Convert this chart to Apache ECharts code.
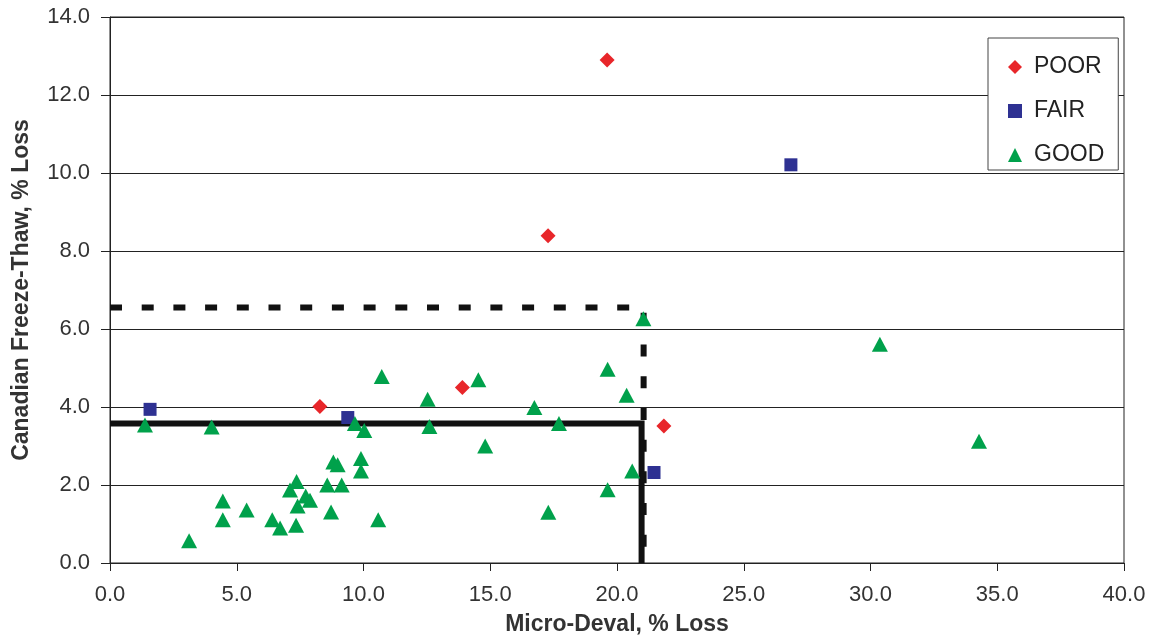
<!DOCTYPE html>
<html>
<head>
<meta charset="utf-8">
<script src="https://cdn.jsdelivr.net/npm/echarts@6/dist/echarts.min.js"></script>
<style>html,body{margin:0;padding:0;background:#fff;}#c{width:1151px;height:641px;}</style>
</head>
<body>
<div id="c"></div>
<script>
// Micro-Deval % loss (x), Canadian Freeze-Thaw % loss (y)
const poor = [[19.61,12.90],[17.28,8.39],[13.90,4.50],[8.28,4.01],[21.85,3.51]];
const fair = [[26.86,10.21],[1.58,3.94],[9.38,3.73],[21.46,2.32]];
const good = [
  [1.38,3.54],[4.01,3.49],[3.12,0.57],[4.45,1.59],[4.45,1.11],[5.39,1.36],
  [6.40,1.11],[6.71,0.90],[7.10,1.87],[7.36,2.09],[7.34,0.97],[7.40,1.46],
  [7.72,1.72],[7.89,1.61],[8.57,2.00],[8.72,1.31],[8.81,2.59],[8.98,2.52],
  [9.14,2.00],[9.66,3.58],[9.90,2.68],[9.90,2.36],[10.03,3.40],[10.58,1.11],
  [10.72,4.78],[12.53,4.20],[12.60,3.50],[14.53,4.70],[14.80,3.00],[16.74,3.99],
  [17.29,1.30],[17.71,3.58],[19.63,4.97],[19.63,1.88],[20.38,4.30],[20.60,2.36],
  [21.04,6.26],[30.37,5.61],[34.28,3.12]
];
const solidLimit = [[0,3.58],[20.97,3.58],[20.97,0]];
const dashedLimit = [[0,6.55],[21.05,6.55],[21.05,0]];
const seriesNames = ['POOR','FAIR','GOOD'];

const chart = echarts.init(document.getElementById('c'));
const font = '"Liberation Sans", Arial, sans-serif';
chart.setOption({
  animation: false,
  backgroundColor: '#fff',
  grid: { left: 110, right: 27, top: 17, bottom: 77, show: true, borderColor: '#222', borderWidth: 1, backgroundColor: 'transparent' },
  legend: {
    orient: 'vertical', left: 988, top: 38,
    data: seriesNames,
    itemWidth: 14, itemHeight: 14, itemGap: 20,
    padding: [17, 14, 3, 20],
    borderColor: '#444', borderWidth: 1, backgroundColor: '#fff',
    textStyle: { fontFamily: font, fontSize: 23, color: '#222', lineHeight: 24, padding: [0, 0, 0, 7] }
  },
  xAxis: {
    type: 'value', min: 0, max: 40, interval: 5,
    name: 'Micro-Deval, % Loss', nameLocation: 'middle', nameGap: 50,
    nameTextStyle: { fontFamily: font, fontSize: 23, fontWeight: 'bold', color: '#333' },
    axisLine: { show: true, lineStyle: { color: '#222', width: 1 } },
    axisTick: { show: true, length: 8, lineStyle: { color: '#222' } },
    axisLabel: { fontFamily: font, fontSize: 22, color: '#333', margin: 21, formatter: v => v.toFixed(1) },
    splitLine: { show: false }
  },
  yAxis: {
    type: 'value', min: 0, max: 14, interval: 2,
    name: 'Canadian Freeze-Thaw, % Loss', nameLocation: 'middle', nameGap: 77,
    nameTextStyle: { fontFamily: font, fontSize: 23, fontWeight: 'bold', color: '#333' },
    axisLine: { show: true, lineStyle: { color: '#222', width: 1 } },
    axisTick: { show: true, length: 9, lineStyle: { color: '#222' } },
    axisLabel: { fontFamily: font, fontSize: 22, color: '#333', margin: 20, formatter: v => v.toFixed(1) },
    splitLine: { show: true, lineStyle: { color: '#222', width: 1 } }
  },
  series: [
    { type: 'line', name: 'limitSolid', data: solidLimit, symbol: 'none', z: 1, silent: true,
      lineStyle: { color: '#111', width: 6, cap: 'butt', join: 'miter' } },
    { type: 'line', name: 'limitDashed', data: dashedLimit, symbol: 'none', z: 1, silent: true,
      lineStyle: { color: '#111', width: 6, type: [12, 19.7], cap: 'butt', join: 'miter' } },
    { type: 'scatter', name: 'POOR', data: poor, symbol: 'diamond', symbolSize: [15, 15], z: 3,
      itemStyle: { color: '#E8262A', opacity: 1 } },
    { type: 'scatter', name: 'FAIR', data: fair, symbol: 'rect', symbolSize: 13, z: 3,
      itemStyle: { color: '#2E3192', opacity: 1 } },
    { type: 'scatter', name: 'GOOD', data: good, symbol: 'triangle', symbolSize: [16, 15], z: 3,
      itemStyle: { color: '#00A14B', opacity: 1 } }
  ]
});
</script>
</body>
</html>
